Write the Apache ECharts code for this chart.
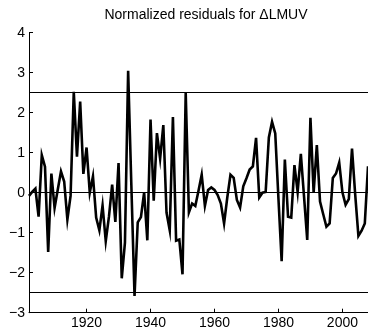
<!DOCTYPE html>
<html>
<head>
<meta charset="utf-8">
<title>Normalized residuals</title>
<script src="https://cdn.jsdelivr.net/npm/echarts@6/dist/echarts.min.js"></script>
<style>
  html, body { margin: 0; padding: 0; background: #fff; }
  #chart { width: 368px; height: 335px; }
</style>
</head>
<body>
<div id="chart"></div>
<script>
// Residual series, one value per year starting in 1902
const startYear = 1902;
const residuals = [
  -0.08, 0.02, 0.10, -0.60, 0.94, 0.65, -1.48, 0.48, -0.38, 0.08,
  0.53, 0.28, -0.67, -0.08, 2.52, 0.90, 2.28, 0.47, 1.13, 0.00,
  0.41, -0.62, -0.94, -0.32, -1.21, -0.60, 0.20, -0.73, 0.74, -2.14,
  -1.25, 3.05, 0.20, -2.58, -0.74, -0.61, 0.01, -1.19, 1.83, -0.20,
  1.49, 0.85, 1.69, -0.50, -0.94, 1.89, -1.20, -1.17, -2.04, 2.50,
  -0.49, -0.27, -0.33, 0.05, 0.45, -0.33, 0.07, 0.13, 0.07, -0.06,
  -0.27, -0.77, -0.12, 0.45, 0.37, -0.18, -0.37, 0.16, 0.36, 0.58,
  0.66, 1.37, -0.12, 0.00, 0.02, 1.38, 1.77, 1.48, -0.15, -1.71,
  0.83, -0.60, -0.62, 0.69, 0.02, 0.97, -0.10, -1.18, 1.87, 0.00,
  1.19, -0.22, -0.54, -0.85, -0.77, 0.37, 0.48, 0.75, 0.01, -0.30,
  -0.16, 1.10, -0.05, -1.08, -0.95, -0.77, 0.66
];
const years = residuals.map((_, i) => startYear + i);

// Reference levels: the ±2.5 bounds and zero
const referenceLevels = [2.5, 0, -2.5];

// Axis ticks
const xTicks = [1920, 1940, 1960, 1980, 2000];
const yMin = -3, yMax = 4, yStep = 1;

const titleText = 'Normalized residuals for \u0394LMUV';

const font = "'Liberation Sans', Arial, Helvetica, sans-serif";
const chart = echarts.init(document.getElementById('chart'), null, { renderer: 'canvas' });

chart.setOption({
  animation: false,
  backgroundColor: '#fff',
  title: {
    text: titleText,
    left: 201,
    top: 3,
    textAlign: 'center',
    textStyle: { fontFamily: font, fontSize: 14, fontWeight: 'normal', color: '#000' }
  },
  grid: { left: 29, right: 0, top: 32.7, bottom: 22.3, containLabel: false },
  xAxis: {
    type: 'value',
    min: years[0],
    max: years[years.length - 1],
    splitLine: { show: false },
    axisLine: { show: true, onZero: false, lineStyle: { color: '#000', width: 1 } },
    axisTick: { show: true, inside: true, length: 4, customValues: xTicks, lineStyle: { color: '#000' } },
    axisLabel: {
      customValues: xTicks,
      margin: 3,
      color: '#000',
      fontFamily: font,
      fontSize: 14,
      formatter: v => String(v)
    }
  },
  yAxis: {
    type: 'value',
    min: yMin,
    max: yMax,
    interval: yStep,
    splitLine: { show: false },
    axisLine: { show: true, onZero: false, lineStyle: { color: '#000', width: 1 } },
    axisTick: { show: true, inside: true, length: 4, lineStyle: { color: '#000' } },
    axisLabel: {
      margin: 4,
      color: '#000',
      fontFamily: font,
      fontSize: 14,
      formatter: v => String(v).replace('-', '\u2212')
    }
  },
  series: [{
    type: 'line',
    data: years.map((y, i) => [y, residuals[i]]),
    showSymbol: false,
    symbol: 'none',
    lineStyle: { color: '#000', width: 2.6, join: 'miter' },
    itemStyle: { color: '#000' },
    markLine: {
      silent: true,
      symbol: ['none', 'none'],
      label: { show: false },
      lineStyle: { color: '#000', width: 1, type: 'solid' },
      emphasis: { disabled: true },
      data: referenceLevels.map(v => ({ yAxis: v }))
    }
  }]
});
</script>
</body>
</html>
